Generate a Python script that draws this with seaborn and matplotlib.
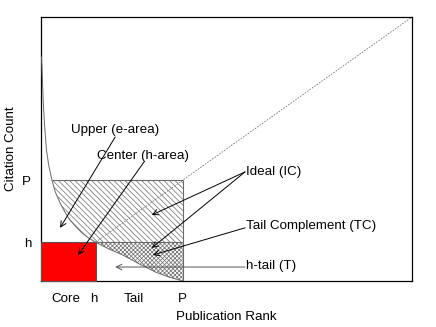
import numpy as np
import matplotlib
matplotlib.use("Agg")
import matplotlib.pyplot as plt
import seaborn as sns

# ---- data ----
h_val = 10.0
P_val = 26.0
axis_max = 68.0
curve_x = [0.1, 0.2, 0.4, 0.65, 1.0, 1.4, 2.0, 2.6, 3.5, 4.4, 5.3, 6.4, 7.5, 8.7,
           10.0, 12.5, 15.0, 18.0, 21.0, 23.5, 26.0]
curve_y = [57.7, 54.4, 46.6, 40.2, 33.8, 29.9, 26.0, 23.0, 20.1, 17.7, 15.7, 14.0, 12.4, 11.1,
           10.0, 8.2, 6.7, 4.4, 2.3, 1.0, 0.0]
ideal_x = [0.0, axis_max]
ideal_y = [0.0, axis_max]
xtick_pos = [4.5, 9.6, 17.0, 26.0]
xtick_labels = ["Core", "h", "Tail", "P"]
ytick_pos = [10.0, 26.0]
ytick_labels = ["h", "P"]

sns.set_theme(style="white")
plt.rcParams['font.family'] = ['Liberation Sans', 'DejaVu Sans']
plt.rcParams['hatch.linewidth'] = 0.55

fig = plt.figure(figsize=(4.36, 3.27), dpi=100)
ax = fig.add_axes([41/436, 46/327, 371/436, 264/327])

cx = np.array(curve_x)
cy = np.array(curve_y)
gray = "#6a6a6a"

# ideal dashed diagonal
sns.lineplot(x=ideal_x, y=ideal_y, ax=ax, color="#777777", lw=0.6,
             linestyle=(0, (2, 1.5)), zorder=1)

# upper hatched region (above curve, h..P)
ax.fill_between(cx, np.maximum(cy, h_val), P_val, where=(cy <= P_val),
                facecolor="none", edgecolor="#777777", hatch="\\" * 6, lw=0, zorder=2)
# tail complement crosshatch (h..P, between curve and h)
ax.fill_between(cx, cy, h_val, where=(cx >= h_val),
                facecolor="none", edgecolor="#777777", hatch="x" * 8, lw=0, zorder=2)

# red core square
ax.fill_between([0, h_val], 0, h_val, facecolor="#ff0000", edgecolor="#555555", lw=0.8, zorder=3)

# box outlines
ax.hlines(P_val, 2.0, P_val, color=gray, lw=0.8, zorder=4)
ax.vlines(P_val, 0, P_val, color=gray, lw=0.8, zorder=4)
ax.hlines(h_val, h_val, P_val, color=gray, lw=0.8, zorder=4)

# citation curve
sns.lineplot(x=curve_x, y=curve_y, ax=ax, color=gray, lw=0.7, zorder=5)

ap = dict(arrowstyle="->", color="black", lw=0.7, shrinkA=0, shrinkB=0, mutation_scale=10)
fs = 9.6
ax.text(13.5, 38.9, "Upper (e-area)", fontsize=fs, ha="center", va="center", color="black", zorder=6)
ax.annotate("", xy=(3.5, 13.7), xytext=(13.6, 37.1), arrowprops=ap, zorder=6)
ax.text(18.7, 32.2, "Center (h-area)", fontsize=fs, ha="center", va="center", color="black", zorder=6)
ax.annotate("", xy=(6.8, 6.7), xytext=(18.9, 30.7), arrowprops=ap, zorder=6)
ax.text(37.6, 28.1, "Ideal (IC)", fontsize=fs, ha="left", va="center", color="black", zorder=6)
ax.annotate("", xy=(20.3, 17.0), xytext=(37.4, 28.1), arrowprops=ap, zorder=6)
ax.annotate("", xy=(20.3, 8.5), xytext=(37.4, 28.1), arrowprops=ap, zorder=6)
ax.text(37.6, 14.1, "Tail Complement (TC)", fontsize=fs, ha="left", va="center", color="black", zorder=6)
ax.annotate("", xy=(20.5, 6.7), xytext=(37.4, 13.7), arrowprops=ap, zorder=6)
ax.text(37.6, 3.9, "h-tail (T)", fontsize=fs, ha="left", va="center", color="black", zorder=6)
ax.annotate("", xy=(13.6, 3.6), xytext=(37.4, 3.6),
            arrowprops=dict(ap, color="#555555"), zorder=6)

ax.set_xlim(0, axis_max)
ax.set_ylim(0, axis_max)
ax.set_xticks(xtick_pos)
ax.set_xticklabels(xtick_labels)
ax.set_yticks(ytick_pos)
ax.set_yticklabels(ytick_labels)
ax.tick_params(axis="both", length=0, labelsize=fs, colors="black")
ax.tick_params(axis="x", pad=9)
ax.tick_params(axis="y", pad=7)
ax.set_xlabel("Publication Rank", fontsize=fs, color="black", labelpad=4)
ax.set_ylabel("Citation Count", fontsize=fs, color="black", labelpad=3.5)
for s in ax.spines.values():
    s.set_color("black")
    s.set_linewidth(0.9)
ax.grid(False)

fig.savefig("out.png", dpi=100)
